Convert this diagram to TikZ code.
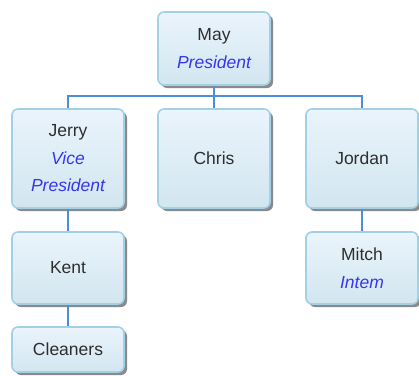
\documentclass[tikz,border=0pt]{standalone}
\usepackage{fontspec}
\setmainfont{Liberation Sans}
\usetikzlibrary{shadows}
\definecolor{boxtop}{HTML}{EAF4FC}
\definecolor{boxbot}{HTML}{D2E6F0}
\definecolor{boxline}{HTML}{A2D0E6}
\definecolor{nametxt}{HTML}{2E2E2E}
\definecolor{roletxt}{HTML}{3636F0}
\definecolor{wire}{HTML}{4A8FDB}
\newcommand{\role}[1]{\textcolor{roletxt}{\itshape #1}}
\begin{document}
\begin{tikzpicture}[x=1pt,y=-1pt,
  person/.style={rectangle, rounded corners=6pt, draw=boxline, line width=1.6pt,
    top color=boxtop, bottom color=boxbot, minimum width=112pt,
    text=nametxt, align=center, inner sep=2pt,
    font=\fontsize{17.5}{27.5}\selectfont,
    drop shadow={shadow xshift=3pt, shadow yshift=-3pt, fill=black!70, opacity=0.65}},
  wirestyle/.style={draw=wire, line width=1.5pt}]
\useasboundingbox (0,0) rectangle (419,375);
\node[person, minimum height=73pt] (may) at (214,48.5) {May\\\role{President}};
\node[person, minimum height=99pt] (jerry) at (68,158.5) {Jerry\\\role{Vice}\\\role{President}};
\node[person, minimum height=99pt] (chris) at (214,158.5) {Chris};
\node[person, minimum height=99pt] (jordan) at (362,158.5) {Jordan};
\node[person, minimum height=72pt] (kent) at (68,268) {Kent};
\node[person, minimum height=45pt] (cleaners) at (68,349.5) {Cleaners};
\node[person, minimum height=72pt] (mitch) at (362,268) {Mitch\\\role{Intem}};
\coordinate (bus) at (214,96);
\draw[wirestyle] (may.south) -- (chris.north);
\draw[wirestyle] (jerry.north) |- (bus) -| (jordan.north);
\draw[wirestyle] (jerry.south) -- (kent.north);
\draw[wirestyle] (kent.south) -- (cleaners.north);
\draw[wirestyle] (jordan.south) -- (mitch.north);
\end{tikzpicture}
\end{document}
